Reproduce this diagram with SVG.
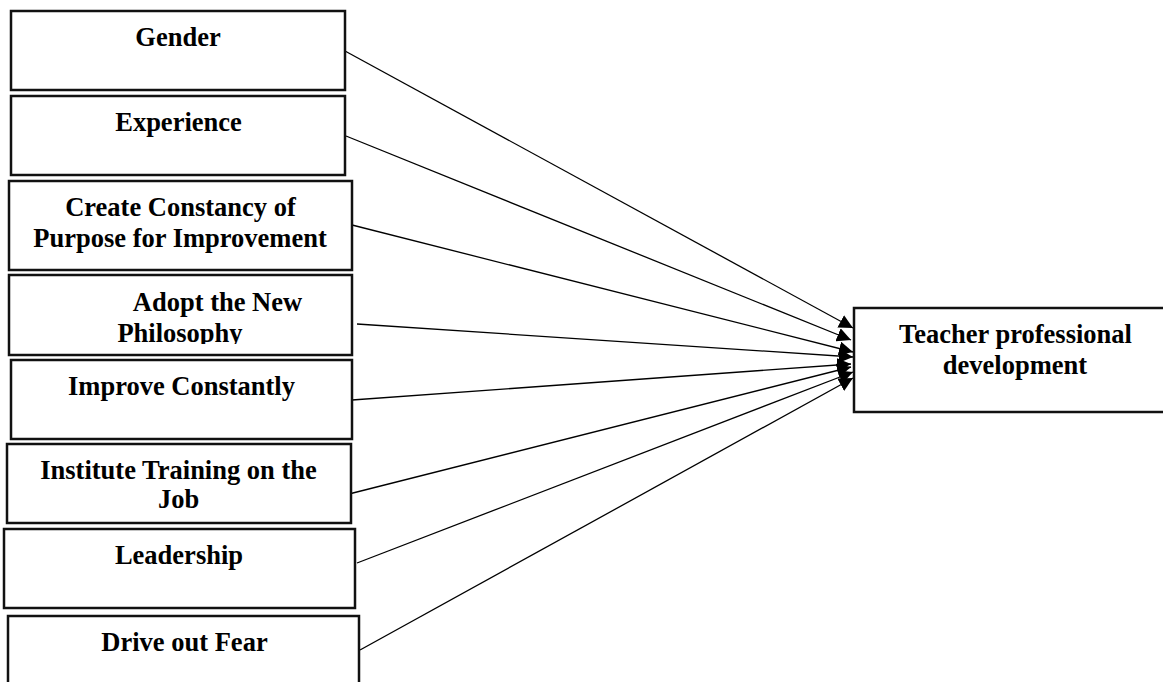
<svg xmlns="http://www.w3.org/2000/svg" width="1163" height="682" viewBox="0 0 1163 682">
<style>
.box{fill:#fff;stroke:#111;stroke-width:2.5}
.t{font-family:"Liberation Serif","Times New Roman",serif;font-weight:bold;font-size:26.5px;fill:#000;text-anchor:middle}
.c{stroke:#000;stroke-width:1.3;fill:none;marker-end:url(#ah)}
</style>
<defs>
<marker id="ah" markerUnits="userSpaceOnUse" markerWidth="16" markerHeight="14" refX="14" refY="7" orient="auto">
<path d="M0,0 L14,7 L0,14 Z" fill="#000"/>
</marker>
<clipPath id="clip4"><rect x="0" y="275" width="360" height="69"/></clipPath>
</defs>
<rect width="1163" height="682" fill="#fff"/>
<g id="connectors">
<line class="c" x1="345" y1="51" x2="853" y2="328"/>
<line class="c" x1="346" y1="136" x2="851" y2="340"/>
<line class="c" x1="352" y1="225" x2="853" y2="352"/>
<line class="c" x1="357" y1="324" x2="853" y2="357"/>
<line class="c" x1="352" y1="400" x2="851" y2="364"/>
<line class="c" x1="345" y1="495" x2="851" y2="367"/>
<line class="c" x1="357" y1="563" x2="853" y2="372"/>
<line class="c" x1="360" y1="650" x2="853" y2="378"/>
</g>
<g id="gender"><rect class="box" x="11" y="11" width="334" height="79"/><text class="t" x="178" y="46">Gender</text></g>
<g id="experience"><rect class="box" x="11" y="96" width="334" height="79"/><text class="t" x="178.5" y="131">Experience</text></g>
<g id="constancy"><rect class="box" x="9" y="181" width="343" height="89"/><text class="t" x="180.5" y="216">Create Constancy of</text><text class="t" x="180" y="247">Purpose for Improvement</text></g>
<g id="adopt"><rect class="box" x="9" y="275" width="343" height="80"/><g clip-path="url(#clip4)"><text class="t" x="217.5" y="311">Adopt the New</text><text class="t" x="180" y="342">Philosophy</text></g></g>
<g id="improve"><rect class="box" x="11" y="360" width="341" height="79"/><text class="t" x="181.5" y="395">Improve Constantly</text></g>
<g id="training"><rect class="box" x="7" y="444" width="344" height="79"/><text class="t" x="178.5" y="479">Institute Training on the</text><text class="t" x="178.5" y="508">Job</text></g>
<g id="leadership"><rect class="box" x="4" y="529" width="351" height="79"/><text class="t" x="179" y="564">Leadership</text></g>
<g id="fear"><rect class="box" x="8" y="616" width="351" height="80"/><text class="t" x="184.5" y="651">Drive out Fear</text></g>
<g id="tpd"><rect class="box" x="854" y="308" width="320" height="104"/><text class="t" x="1015.5" y="343">Teacher professional</text><text class="t" x="1015" y="374">development</text></g>
</svg>
